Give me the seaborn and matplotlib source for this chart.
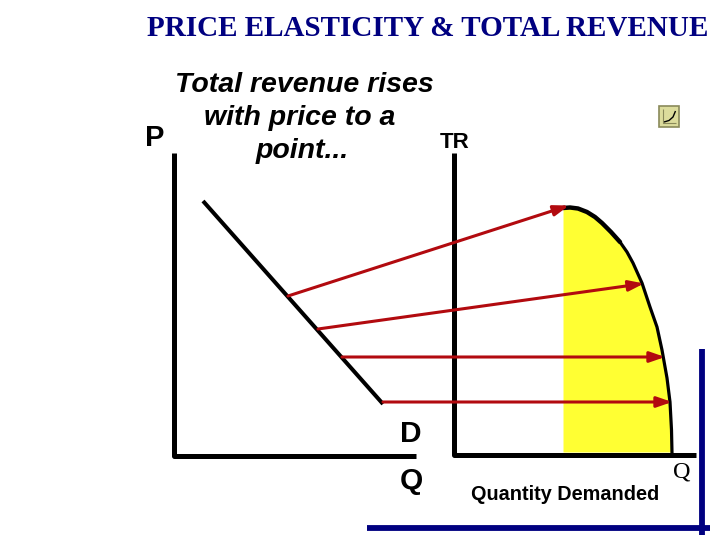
import matplotlib
matplotlib.use("Agg")
from matplotlib import pyplot as plt
from matplotlib.patches import Rectangle
import pandas as pd
import seaborn as sns

# everything, in picture pixels
demand_x = [203, 383]
demand_y = [201, 404]

p_axis_x = [174, 174, 416]
p_axis_y = [153, 456, 456]
tr_axis_x = [454, 454, 696]
tr_axis_y = [153, 455, 455]

# curve is heavier at the top than at the bottom
tr_top_x = [563, 570, 578, 587, 595, 602, 611, 620]
tr_top_y = [208, 207.5, 208.5, 212, 217, 223, 232, 242]
tr_low_x = [620, 627, 633, 642, 650, 657, 662, 667, 670, 671.5, 672]
tr_low_y = [242, 252, 263, 283, 307, 327, 350, 378, 402, 430, 453]

arrow_x0 = [288, 318, 342, 383]
arrow_y0 = [296, 329, 357, 402]
arrow_x1 = [569, 644, 665, 672]
arrow_y1 = [205.5, 283.5, 357, 402]

blue_v_x = [702, 702]
blue_v_y = [349, 535]
blue_h_x = [367, 710]
blue_h_y = [528, 528]

icon_curve_x = [664, 669, 673, 675.5]
icon_curve_y = [122, 120.5, 117, 111]

BLACK = "#000000"
RED = "#b20a0f"
NAVY = "#000080"
SERIF = "Liberation Serif"
SANS = "Liberation Sans"

sns.set_theme(style="white")

fig = plt.figure(figsize=(7.2, 5.4), dpi=100)
ax = fig.add_axes([0, 0, 1, 1])


def draw_path(xs, ys, color, lw, cap="butt"):
    df = pd.DataFrame({"x": xs, "y": ys})
    sns.lineplot(data=df, x="x", y="y", estimator=None, sort=False, color=color,
                 linewidth=lw, ax=ax, legend=False, solid_capstyle=cap, solid_joinstyle="round")


ax.fill_between(tr_top_x + tr_low_x, tr_top_y + tr_low_y, 452, color="#ffff33", linewidth=0, zorder=1)

draw_path(tr_top_x, tr_top_y, BLACK, 3.2, cap="round")
draw_path(tr_low_x, tr_low_y, BLACK, 2.3, cap="round")
draw_path(demand_x, demand_y, BLACK, 2.9)
draw_path(p_axis_x, p_axis_y, BLACK, 3.6)
draw_path(tr_axis_x, tr_axis_y, BLACK, 3.6)
draw_path(blue_v_x, blue_v_y, NAVY, 4.2)
draw_path(blue_h_x, blue_h_y, NAVY, 4.2)

for x0, y0, x1, y1 in zip(arrow_x0, arrow_y0, arrow_x1, arrow_y1):
    ax.annotate("", xy=(x1, y1), xytext=(x0, y0), zorder=5,
                arrowprops=dict(arrowstyle="-|>,head_length=0.75,head_width=0.26", color=RED,
                                lw=2.2, shrinkA=0, shrinkB=0))

# little chart button top right
ax.add_patch(Rectangle((658.5, 105.5), 20.5, 21, facecolor="#dcdc9c", edgecolor="#8a8a5a", lw=1.2))
draw_path([663, 663, 676], [109, 122.5, 122.5], "#8a8a5a", 0.8)
draw_path(icon_curve_x, icon_curve_y, BLACK, 1.0)

ax.text(427.5, 29, "PRICE ELASTICITY & TOTAL REVENUE", family=SERIF, weight="bold", fontsize=21,
        color=NAVY, ha="center", va="center")
ax.text(304, 85, "Total revenue rises", family=SANS, weight="bold", style="italic", fontsize=20.5,
        color=BLACK, ha="center", va="center")
ax.text(300, 118, "with price to a", family=SANS, weight="bold", style="italic", fontsize=20.5,
        color=BLACK, ha="center", va="center")
ax.text(302, 151, "point...", family=SANS, weight="bold", style="italic", fontsize=20.5,
        color=BLACK, ha="center", va="center")
ax.text(155, 138, "P", family=SANS, weight="bold", fontsize=21, color=BLACK, ha="center", va="center")
ax.text(455, 143, "TR", family=SANS, weight="bold", fontsize=16, color=BLACK, ha="center", va="center")
ax.text(411, 434, "D", family=SANS, weight="bold", fontsize=21.5, color=BLACK, ha="center", va="center")
ax.text(411, 481, "Q", family=SANS, weight="bold", fontsize=21.5, color=BLACK, ha="center", va="center")
ax.text(565, 495, "Quantity Demanded", family=SANS, weight="bold", fontsize=14.3, color=BLACK,
        ha="center", va="center")
ax.text(682, 472, "Q", family=SERIF, fontsize=17.5, color=BLACK, ha="center", va="center")

ax.set_xlim(0, 720)
ax.set_ylim(540, 0)
ax.axis("off")

fig.savefig("out.png", dpi=100, facecolor="white")
